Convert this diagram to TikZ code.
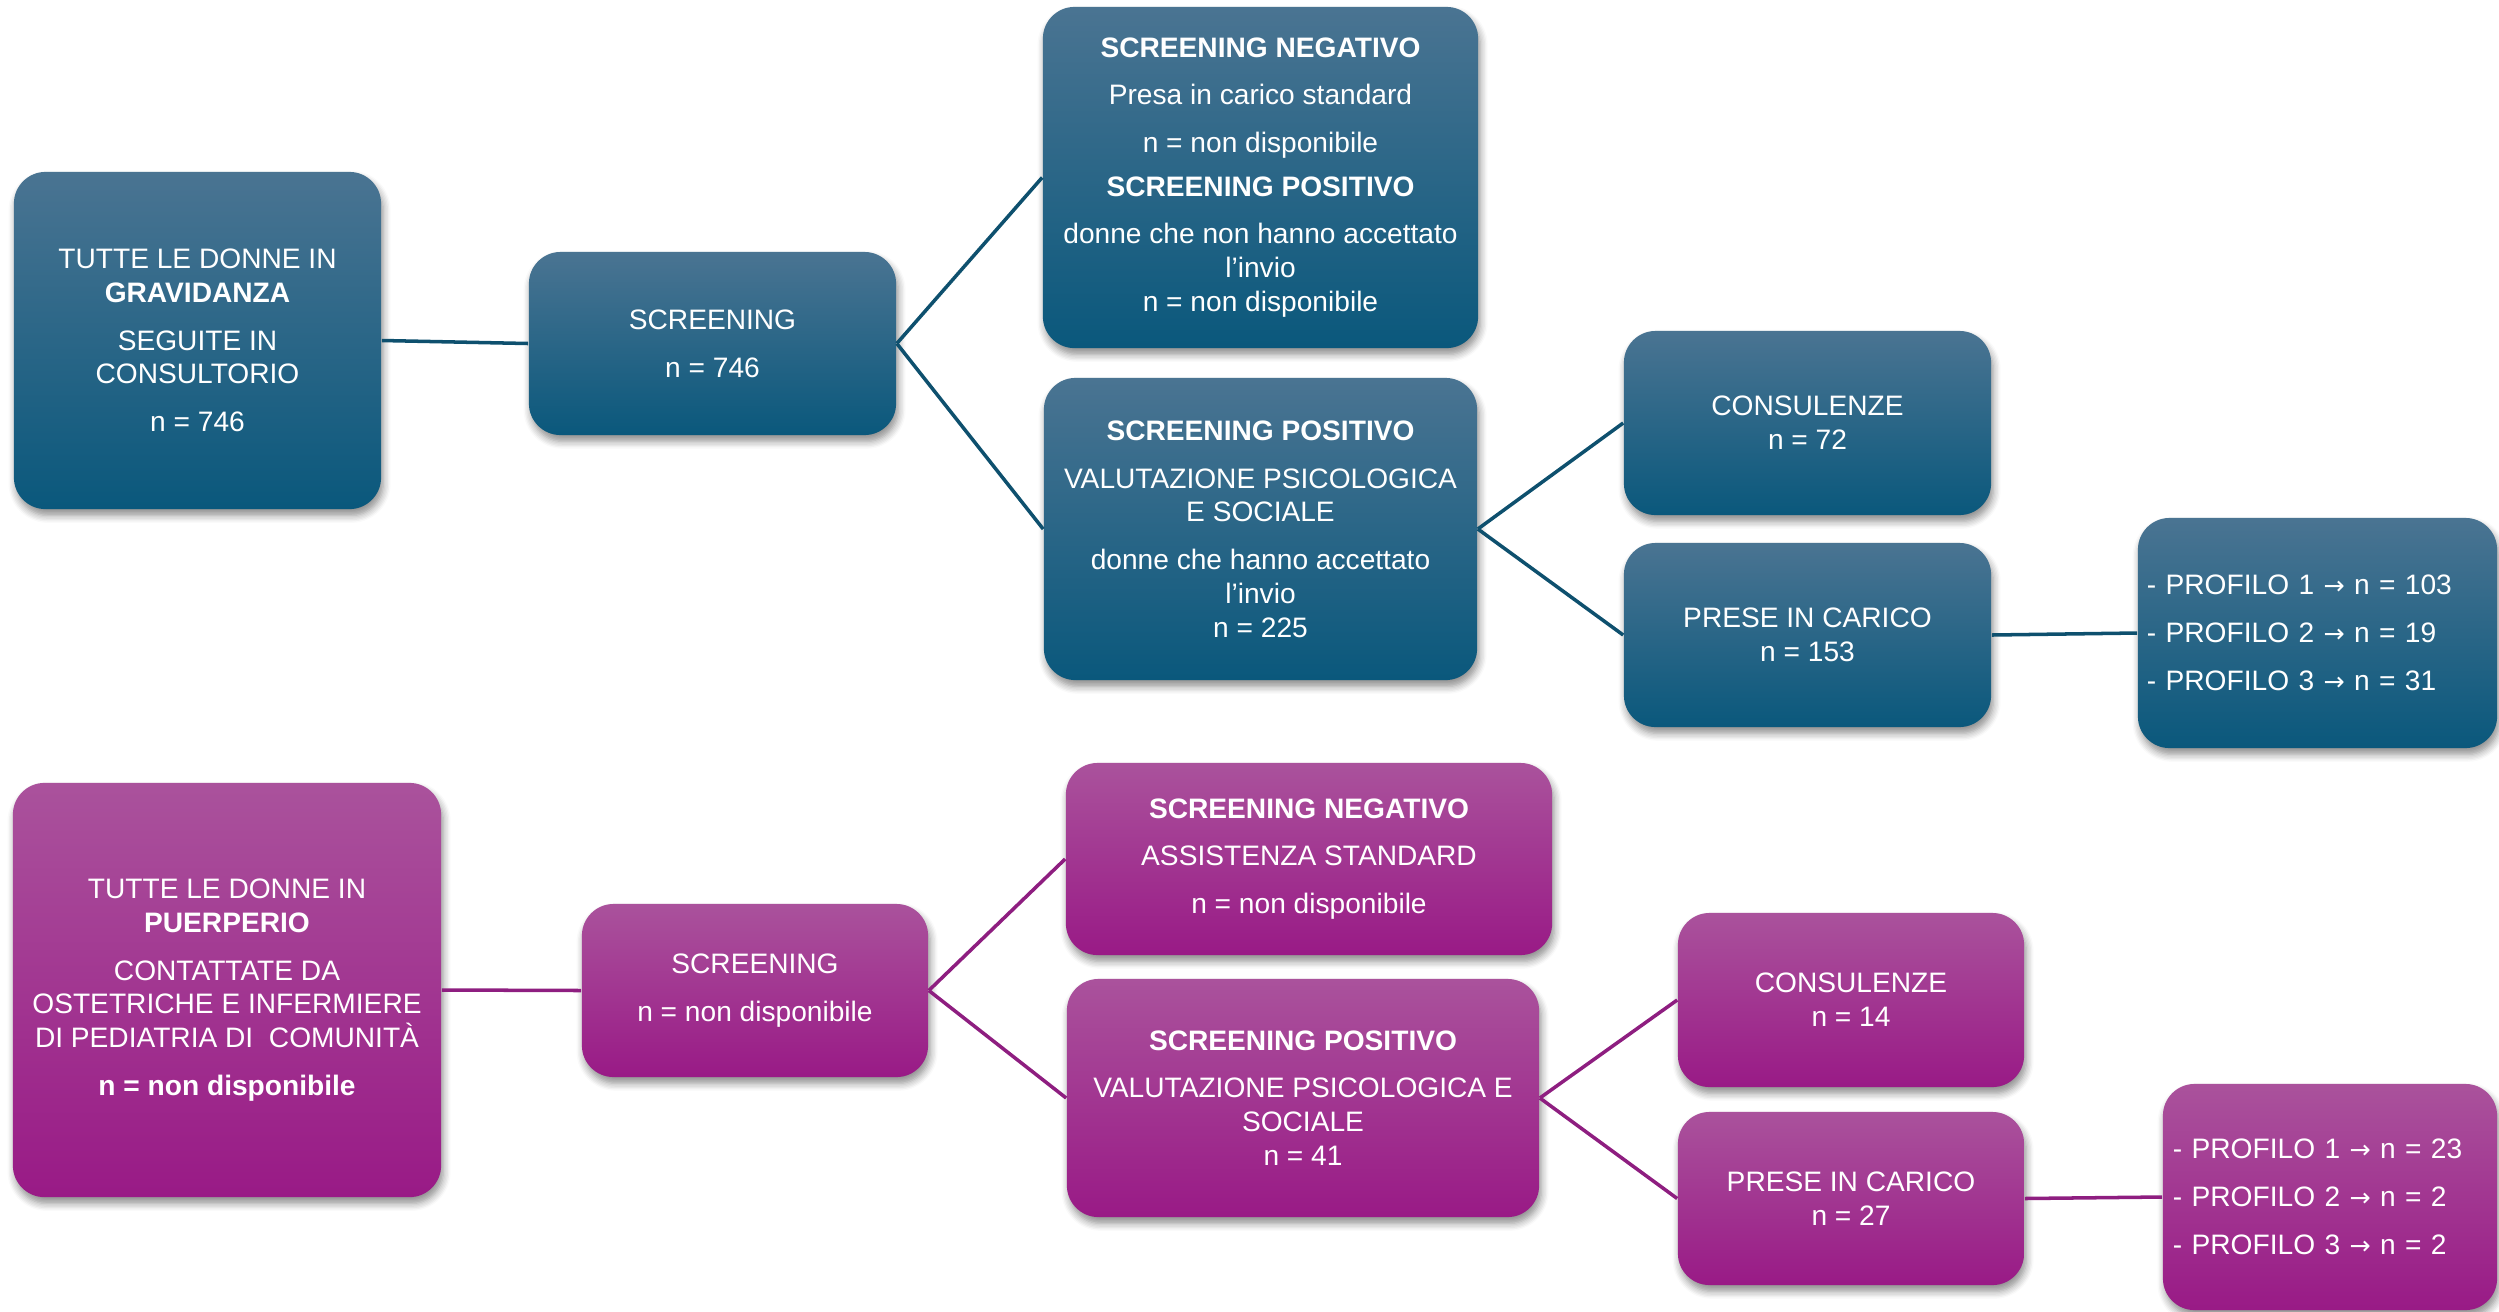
\documentclass[tikz,border=0pt]{standalone}
\usepackage{fontspec}
\setmainfont{Liberation Sans}
\newfontfamily\arrowfont{DejaVu Sans}
\usetikzlibrary{shadows.blur}
\definecolor{bluetop}{RGB}{74,116,146}
\definecolor{bluebot}{RGB}{10,88,124}
\definecolor{purtop}{RGB}{170,82,156}
\definecolor{purbot}{RGB}{153,26,134}
\definecolor{blueline}{RGB}{14,80,110}
\definecolor{purline}{RGB}{142,30,128}
\newcommand{\arr}{{\arrowfont\fontsize{7.2}{7}\selectfont →}}
\tikzset{
  box/.style={rectangle, rounded corners=9pt, text=white, align=center,
    font=\fontsize{8}{9.6}\selectfont, inner sep=2pt,
    blur shadow={shadow xshift=0.6pt, shadow yshift=-1.8pt, shadow blur steps=6, shadow opacity=45}},
  bluebox/.style={box, top color=bluetop, bottom color=bluebot},
  purplebox/.style={box, top color=purtop, bottom color=purbot},
  bline/.style={draw=blueline, line width=1pt},
  pline/.style={draw=purline, line width=1pt},
  sz/.style 2 args={minimum width=#1, minimum height=#2},
}
\begin{document}
\begin{tikzpicture}[x=0.01cm, y=-0.01cm]
\useasboundingbox (0,0) rectangle (2499,1311);
% ---- top (blue) ----
\node[bluebox, sz={3.67cm}{3.37cm}] (A) at (197.5,340.5)
  {TUTTE LE DONNE IN\\\textbf{GRAVIDANZA}\\[4pt]SEGUITE IN\\CONSULTORIO\\[4pt]n = 746};
\node[bluebox, sz={3.67cm}{1.83cm}] (B) at (712.5,343.5)
  {SCREENING\\[4pt]n = 746};
\node[bluebox, sz={4.35cm}{3.41cm}] (C) at (1260.5,177.5)
  {\textbf{SCREENING NEGATIVO}\\[3.8pt]Presa in carico standard\\[3.8pt]n = non disponibile\\[3pt]\textbf{SCREENING POSITIVO}\\[3.8pt]donne che non hanno accettato\\l’invio\\n = non disponibile};
\node[bluebox, sz={4.33cm}{3.02cm}] (D) at (1260.5,529)
  {\textbf{SCREENING POSITIVO}\\[4pt]VALUTAZIONE PSICOLOGICA\\E SOCIALE\\[4pt]donne che hanno accettato\\l’invio\\n = 225};
\node[bluebox, sz={3.67cm}{1.84cm}] (E) at (1807.5,423)
  {CONSULENZE\\n = 72};
\node[bluebox, sz={3.67cm}{1.84cm}] (F) at (1807.5,635)
  {PRESE IN CARICO\\n = 153};
\node[bluebox, sz={3.59cm}{2.30cm}, align=left, inner xsep=0.09cm, text width=3.41cm] (G) at (2317.5,633)
  {- PROFILO 1 \arr\ n = 103\\[4pt]- PROFILO 2 \arr\ n = 19\\[4pt]- PROFILO 3 \arr\ n = 31};
\draw[bline] (A.east) -- (B.west);
\draw[bline] (B.east) -- (C.west);
\draw[bline] (B.east) -- (D.west);
\draw[bline] (D.east) -- (E.west);
\draw[bline] (D.east) -- (F.west);
\draw[bline] (F.east) -- (G.west);
% ---- bottom (purple) ----
\node[purplebox, sz={4.28cm}{4.14cm}] (H) at (227,990)
  {TUTTE LE DONNE IN\\\textbf{PUERPERIO}\\[4pt]CONTATTATE DA\\OSTETRICHE E INFERMIERE\\DI PEDIATRIA DI\ \ COMUNITÀ\\[4pt]\textbf{n = non disponibile}};
\node[purplebox, sz={3.46cm}{1.73cm}] (I) at (755,990.5)
  {SCREENING\\[4pt]n = non disponibile};
\node[purplebox, sz={4.86cm}{1.92cm}] (J) at (1309,859)
  {\textbf{SCREENING NEGATIVO}\\[4pt]ASSISTENZA STANDARD\\[4pt]n = non disponibile};
\node[purplebox, sz={4.72cm}{2.38cm}] (K) at (1303,1098)
  {\textbf{SCREENING POSITIVO}\\[4pt]VALUTAZIONE PSICOLOGICA E\\SOCIALE\\n = 41};
\node[purplebox, sz={3.46cm}{1.74cm}] (L) at (1851,1000)
  {CONSULENZE\\n = 14};
\node[purplebox, sz={3.46cm}{1.73cm}] (M) at (1851,1198.5)
  {PRESE IN CARICO\\n = 27};
\node[purplebox, sz={3.34cm}{2.26cm}, align=left, inner xsep=0.1cm, text width=3.14cm] (N) at (2330,1197)
  {- PROFILO 1 \arr\ n = 23\\[4pt]- PROFILO 2 \arr\ n = 2\\[4pt]- PROFILO 3 \arr\ n = 2};
\draw[pline] (H.east) -- (I.west);
\draw[pline] (I.east) -- (J.west);
\draw[pline] (I.east) -- (K.west);
\draw[pline] (K.east) -- (L.west);
\draw[pline] (K.east) -- (M.west);
\draw[pline] (M.east) -- (N.west);
\end{tikzpicture}
\end{document}
